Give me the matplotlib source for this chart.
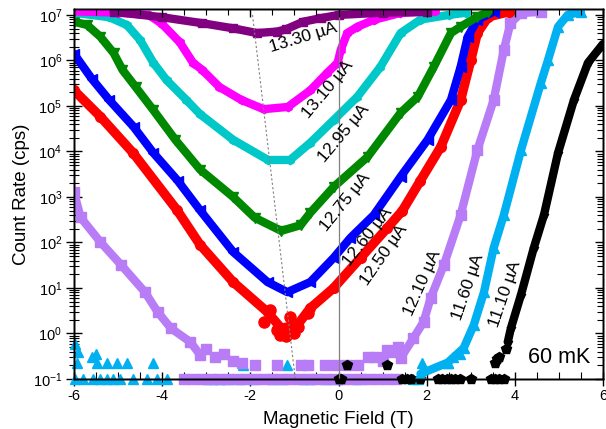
import numpy as np
import matplotlib
matplotlib.use("Agg")
import matplotlib.pyplot as plt
from matplotlib.ticker import LogLocator, LogFormatterSciNotation, MultipleLocator, NullFormatter

plt.rcParams['font.family'] = ['Liberation Sans', 'DejaVu Sans']
plt.rcParams['mathtext.fontset'] = 'custom'
plt.rcParams['mathtext.rm'] = 'Liberation Sans'
plt.rcParams['mathtext.it'] = 'Liberation Sans:italic'
plt.rcParams['mathtext.bf'] = 'Liberation Sans:bold'

# ---------------- data ----------------
purple_x = [-5.1, -4.0, -3.1, -2.4, -1.85, -1.4, -1.2, -0.8, -0.4, 0.0, 1.0, 2.0]
purple_y = [1.17e7, 8.9e6, 6.6e6, 5.1e6, 4.0e6, 4.3e6, 4.8e6, 7.1e6, 8.5e6, 1.0e7, 1.12e7, 1.17e7]

magenta_x = [-6.0, -5.0, -4.3, -4.0, -3.6, -3.3, -3.1, -2.7, -2.2, -1.7, -1.15, -0.64, -0.25, -0.02, 0.05, 0.2, 0.43, 0.8, 1.4, 2.2]
magenta_y = [1.2e7, 1.12e7, 1.0e7, 6.3e6, 2.5e6, 8.9e5, 6.3e5, 2.6e5, 1.35e5, 8.5e4, 9.5e4, 2.2e5, 5.4e5, 8.9e5, 1.7e6, 4.0e6, 5.5e6, 7.8e6, 1.1e7, 1.2e7]

cyan_x = [-6.0, -5.2, -4.8, -4.5, -4.2, -3.9, -3.45, -3.14, -2.39, -1.6, -1.1, -0.64, -0.11, 0.43, 0.95, 1.41, 1.86, 2.5, 2.9]
cyan_y = [1.12e7, 8.9e6, 6.0e6, 2.8e6, 8.9e5, 3.7e5, 1.35e5, 6.6e4, 1.8e4, 6.5e3, 6.5e3, 1.55e4, 4.9e4, 1.6e5, 7.2e5, 4.0e6, 7.9e6, 1.0e7, 1.12e7]

green_x = [-6.0, -5.7, -5.4, -5.1, -4.9, -4.6, -4.2, -3.7, -3.14, -2.39, -1.9, -1.3, -0.86, -0.64, -0.11, 0.66, 1.41, 1.8, 2.16, 2.55, 2.77, 3.15, 3.4]
green_y = [7.1e6, 6.0e6, 3.3e6, 1.45e6, 6.2e5, 2.6e5, 8.1e4, 1.8e4, 4.0e3, 1.0e3, 3.5e2, 1.8e2, 2.4e2, 4.5e2, 1.66e3, 7.6e3, 7.1e4, 1.6e5, 7.2e5, 4.0e6, 5.5e6, 9.1e6, 1.17e7]

blue_x = [-6.0, -5.6, -5.2, -4.65, -4.2, -3.65, -3.14, -2.39, -1.61, -1.16, -0.64, -0.11, 0.27, 0.8, 1.41, 2.02, 2.55, 2.77, 2.93, 3.15, 3.52]
blue_y = [1.4e6, 4.0e5, 1.35e5, 3.5e4, 9.3e3, 2.3e3, 5.1e2, 62, 13.5, 8.1, 13.5, 46, 126, 400, 2.8e3, 1.8e4, 1.35e5, 7.2e5, 3.3e6, 7.8e6, 1.17e7]

red_x = [-6.0, -5.4, -4.66, -3.66, -3.14, -2.39, -1.61, -1.3, -0.93, -0.64, -0.11, 0.5, 1.11, 1.45, 1.86, 2.32, 2.77, 3.0, 3.15, 3.4, 3.86]
red_y = [2.2e5, 5.8e4, 9.3e3, 5.1e2, 89, 13.5, 2.95, 1.3, 1.55, 3.6, 10, 46, 210, 500, 2.3e3, 1.26e4, 1.35e5, 1.0e6, 4.0e6, 9.1e6, 1.17e7]
red_scatter_x = [-1.7, -1.55, -1.39, -1.32, -1.09, -0.93, -0.7, -1.2, -1.0]
red_scatter_y = [1.8, 3.3, 1.2, 0.93, 2.3, 1.4, 2.8, 0.9, 1.0]

lav_left_x = [-6.0, -5.85, -5.4, -4.93, -4.39, -4.1, -3.8, -3.36, -3.14]
lav_left_y = [1260, 355, 102, 32, 8.1, 2.95, 1.3, 0.65, 0.34]
lav_right_x = [1.41, 1.7, 1.93, 2.09, 2.39, 2.77, 3.15, 3.52, 3.75, 3.9, 4.14, 4.6]
lav_right_y = [0.29, 0.79, 1.8, 6.0, 32, 400, 1.07e4, 1.35e5, 1.7e6, 6.6e6, 1.1e7, 1.17e7]
lav_scatter_x = [-3.0, -2.8, -2.6, -2.4, -2.2, -1.9, -1.4, -0.86, -0.7, -0.3, -0.05, 0.2, 0.45, 0.66, 0.85, 1.0, 1.1, 1.25, 1.35]
lav_scatter_y = [0.45, 0.3, 0.35, 0.25, 0.22, 0.2, 0.2, 0.2, 0.2, 0.2, 0.2, 0.2, 0.2, 0.3, 0.3, 0.25, 0.43, 0.4, 0.5]
lav_base_x = [-3.5, -3.3, -3.1, -2.9, -2.7, -2.5, -2.3, -2.1, -1.9, -1.7, -1.5, -1.3, -1.1, -0.9, -0.7, -0.5, -0.3, -0.1, 0.1, 0.3, 0.5, 0.7, 0.9, 1.1, 1.3]
lav_base_y = [0.1] * len(lav_base_x)

lb_right_x = [1.86, 2.48, 2.84, 3.07, 3.3, 3.52, 3.75, 4.14, 4.59, 4.75, 4.98, 5.2, 5.5]
lb_right_y = [0.13, 0.23, 0.48, 1.55, 8.1, 76, 400, 1.07e4, 3.2e5, 1.0e6, 5.5e6, 1.0e7, 1.17e7]
lb_scatter_x = [-5.98, -5.8, -5.57, -5.41, -5.25, -5.11, -4.95, -4.66, -4.34, -4.11, -3.89,
                -2.98, -2.84, -2.68, -2.52, -2.23, -1.93, -1.48, -1.25, -0.8, -0.64, -0.25, -0.02, 0.43, 1.7, 1.8,
                -5.93, -5.48, -5.25, -5.02, -4.8, -4.2, -2.16, -1.16, 1.9, 2.48, 2.6, 2.75,
                -5.98, -5.9, -5.6, -5.5]
lb_scatter_y = [0.1, 0.1, 0.1, 0.1, 0.1, 0.1, 0.1, 0.1, 0.1, 0.1, 0.1,
                0.1, 0.1, 0.1, 0.1, 0.1, 0.1, 0.1, 0.1, 0.1, 0.1, 0.1, 0.1, 0.1, 0.1, 0.1,
                0.22, 0.22, 0.22, 0.22, 0.22, 0.22, 0.2, 0.2, 0.22, 0.22, 0.3, 0.35,
                0.6, 0.4, 0.3, 0.35]

blk_right_x = [3.84, 3.91, 4.14, 4.43, 4.66, 4.98, 5.34, 5.66, 5.95, 6.0]
blk_right_y = [0.65, 1.3, 7.1, 76, 400, 9.3e3, 1.35e5, 8.9e5, 2.0e6, 2.3e6]
blk_scatter_x = [0.0, 0.05, 1.45, 1.55, 1.65, 1.85, 2.25, 2.35, 2.45, 2.55, 2.65, 2.75, 3.0, 3.45, 3.55, 3.65, 3.75,
                 0.2, 1.1, 3.55, 3.6, 3.65, 3.8]
blk_scatter_y = [0.1] * 17 + [0.2, 0.2, 0.22, 0.28, 0.3, 0.45]

labels = ["13.30 µA", "13.10 µA", "12.95 µA", "12.75 µA", "12.60 µA", "12.50 µA", "12.10 µA", "11.60 µA", "11.10 µA"]
label_x = [-0.8, -0.25, 0.11, 0.16, 0.66, 1.02, 1.91, 2.95, 3.77]
label_y = [3.1e6, 2.3e5, 2.5e4, 7.8e2, 1.3e2, 54, 13, 10.5, 7.4]
label_rot = [17, 50, 50, 51, 52, 55, 66, 71, 71]

dotted_x = [-1.95, -0.98]
dotted_y = [1.0e7, 0.1]

# ---------------- figure ----------------
fig = plt.figure(figsize=(6.06, 4.29), dpi=100)
ax = fig.add_axes([74/606, 1 - 379/429, 529/606, 370/429])
ax.set_yscale('log')
ax.set_xlim(-6, 6)
ax.set_ylim(0.1, 1.35e7)

PURPLE = '#800080'
MAGENTA = '#FF00FF'
CYAN = '#00C8C8'
GREEN = '#008800'
BLUE = '#0000FF'
RED = '#FF0000'
LAV = '#B77CF6'
LBLUE = '#00B0F0'
BLACK = '#000000'

LW = 6.0

def band(x, y, color, marker, ms=6.0, lw=LW, z=3):
    ax.plot(x, y, '-', color=color, lw=lw, solid_joinstyle='round', solid_capstyle='round',
            marker=marker, ms=ms, mec=color, mfc=color, zorder=z)

def dots(x, y, color, marker, ms=7, z=3):
    ax.plot(x, y, ls='none', marker=marker, ms=ms, mec=color, mfc=color, zorder=z, clip_on=False)

dots(lb_scatter_x, lb_scatter_y, LBLUE, '^', ms=7.5, z=2)
dots(lav_base_x, lav_base_y, LAV, 's', ms=7, z=2.5)
dots(lav_scatter_x, lav_scatter_y, LAV, 's', ms=7, z=2.5)
dots(blk_scatter_x, blk_scatter_y, BLACK, 'p', ms=7, z=2.6)

band(lav_left_x, lav_left_y, LAV, 's', ms=6.5)
band(lav_right_x, lav_right_y, LAV, 's', ms=6.5)
band(lb_right_x, lb_right_y, LBLUE, '^', ms=7)
band(blk_right_x, blk_right_y, BLACK, 'p', ms=6)
band(red_x, red_y, RED, 'o', ms=7, lw=6.8)
dots(red_scatter_x, red_scatter_y, RED, 'o', ms=8)
band(blue_x, blue_y, BLUE, '<', ms=6.5)
band(green_x, green_y, GREEN, 'v', ms=6.5)
band(cyan_x, cyan_y, CYAN, 'h', ms=6)
band(magenta_x, magenta_y, MAGENTA, 'h', ms=6)
band(purple_x, purple_y, PURPLE, 's', ms=5.5)

ax.axvline(0, color='#808080', lw=0.9, zorder=5)
ax.plot(dotted_x, dotted_y, color='#808080', lw=0.8, ls=(0, (2, 2)), zorder=5)

for t, x, y, r in zip(labels, label_x, label_y, label_rot):
    ax.text(x, y, t, rotation=r, ha='center', va='center', rotation_mode='anchor',
            fontsize=12.5, color='black', zorder=6)
ax.text(5.0, 0.29, "60 mK", ha='center', va='center', fontsize=15.5, zorder=6)

# ticks
ax.yaxis.set_major_locator(LogLocator(base=10, numticks=20))
ax.yaxis.set_minor_locator(LogLocator(base=10, subs=np.arange(2, 10), numticks=20))
ax.yaxis.set_major_formatter(LogFormatterSciNotation())
ax.yaxis.set_minor_formatter(NullFormatter())
ax.xaxis.set_major_locator(MultipleLocator(2))
ax.xaxis.set_minor_locator(MultipleLocator(0.5))
ax.tick_params(axis='y', which='major', direction='inout', length=11, width=1, labelsize=10.5, pad=3)
ax.tick_params(axis='y', which='minor', direction='inout', length=7, width=0.8)
ax.tick_params(axis='x', which='major', direction='inout', length=10, width=1, labelsize=10.5, pad=2)
ax.tick_params(axis='x', which='minor', direction='in', length=5, width=0.8)
ax.set_xticks([-6, -4, -2, 0, 2, 4, 6])
ax.set_xticklabels(['-6', '-4', '-2', '0', '2', '4', '6'])

axr = ax.twinx()
axr.set_yscale('log')
axr.set_ylim(ax.get_ylim())
axr.yaxis.set_major_locator(LogLocator(base=10, numticks=20))
axr.yaxis.set_minor_locator(LogLocator(base=10, subs=np.arange(2, 10), numticks=20))
axr.yaxis.set_major_formatter(NullFormatter())
axr.yaxis.set_minor_formatter(NullFormatter())
axr.tick_params(axis='y', which='major', direction='in', length=6, width=1)
axr.tick_params(axis='y', which='minor', direction='in', length=4, width=0.8)

axt = ax.twiny()
axt.set_xlim(ax.get_xlim())
axt.xaxis.set_major_locator(MultipleLocator(2))
axt.xaxis.set_minor_locator(MultipleLocator(0.5))
axt.xaxis.set_major_formatter(NullFormatter())
axt.tick_params(axis='x', which='major', direction='in', length=6, width=1)
axt.tick_params(axis='x', which='minor', direction='in', length=4, width=0.8)

for a in (ax, axr, axt):
    for s in a.spines.values():
        s.set_linewidth(1.0)

ax.set_xlabel('Magnetic Field (T)', fontsize=13.5, labelpad=6)
ax.set_ylabel('Count Rate (cps)', fontsize=13.5, labelpad=2)

fig.savefig('out.png', dpi=100)
